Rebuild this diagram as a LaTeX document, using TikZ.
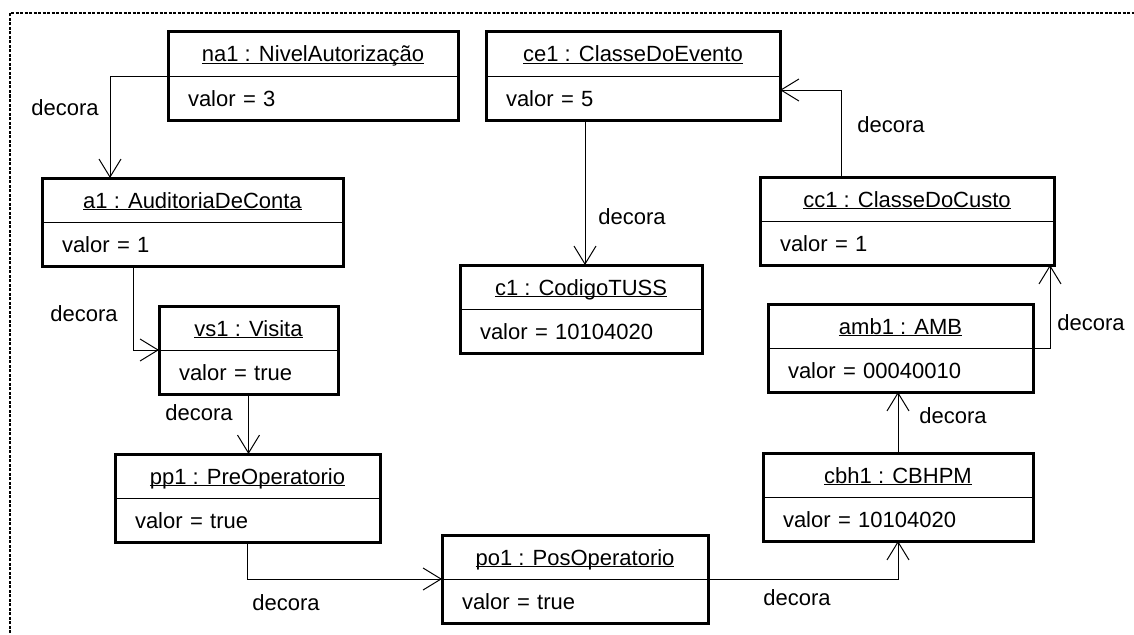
\documentclass[tikz,border=0pt]{standalone}
\usepackage{fontspec}
\setmainfont{Liberation Sans}
\usetikzlibrary{arrows.meta,positioning}
\newcommand{\sublinha}[1]{\underline{\smash{#1}}}

\begin{document}
\begin{tikzpicture}[x=1pt,y=-1pt,>={Straight Barb[length=18pt,width=22pt]},
	font=\fontsize{22}{26}\selectfont,
	titulo/.style={anchor=north west,inner sep=0pt,outer sep=0pt,minimum height=44pt,text height=30pt,text depth=14pt},
	valor/.style={inner xsep=20pt,inner ysep=0pt,outer sep=0pt,minimum height=44pt,text height=30pt,text depth=14pt,align=left},
	borda/.style={line width=3pt},
	divisa/.style={line width=1pt},
	seta/.style={->,line width=1pt},
	rotulo/.style={anchor=base},
	moldura/.style={line width=2pt,dash pattern=on 3pt off 1.5pt}]
				\useasboundingbox (0,0) rectangle (1134,634);
				\draw[moldura] (10,660) |- (1160,13);
				% objetos
				\node[titulo,minimum width=290pt] (na1) at (168,32) {\sublinha{na1 : NivelAutorização}};
				\node[valor,text width=250pt,below=0pt of na1] (na1-v) {valor = 3};
				\node[titulo,minimum width=294pt] (ce1) at (486,32) {\sublinha{ce1 : ClasseDoEvento}};
				\node[valor,text width=254pt,below=0pt of ce1] (ce1-v) {valor = 5};
				\node[titulo,minimum width=301pt] (a1) at (42,178) {\sublinha{a1 : AuditoriaDeConta}};
				\node[valor,text width=261pt,below=0pt of a1] (a1-v) {valor = 1};
				\node[titulo,minimum width=294pt] (cc1) at (760,177) {\sublinha{cc1 : ClasseDoCusto}};
				\node[valor,text width=254pt,below=0pt of cc1] (cc1-v) {valor = 1};
				\node[titulo,minimum width=242pt] (c1) at (460,265) {\sublinha{c1 : CodigoTUSS}};
				\node[valor,text width=202pt,below=0pt of c1] (c1-v) {valor = 10104020};
				\node[titulo,minimum width=179pt] (vs1) at (159,306) {\sublinha{vs1 : Visita}};
				\node[valor,text width=139pt,below=0pt of vs1] (vs1-v) {valor = true};
				\node[titulo,minimum width=265pt] (amb1) at (768,304) {\sublinha{amb1 : AMB}};
				\node[valor,text width=225pt,below=0pt of amb1] (amb1-v) {valor = 00040010};
				\node[titulo,minimum width=265pt] (pp1) at (115,454) {\sublinha{pp1 : PreOperatorio}};
				\node[valor,text width=225pt,below=0pt of pp1] (pp1-v) {valor = true};
				\node[titulo,minimum width=270pt] (cbh1) at (763,453) {\sublinha{cbh1 : CBHPM}};
				\node[valor,text width=230pt,below=0pt of cbh1] (cbh1-v) {valor = 10104020};
				\node[titulo,minimum width=266pt] (po1) at (442,535) {\sublinha{po1 : PosOperatorio}};
				\node[valor,text width=226pt,below=0pt of po1] (po1-v) {valor = true};
				% caixas
				\draw[borda] (na1.north west) rectangle (na1-v.south east);
				\draw[divisa] (na1.south west) -- (na1.south east);
				\draw[borda] (ce1.north west) rectangle (ce1-v.south east);
				\draw[divisa] (ce1.south west) -- (ce1.south east);
				\draw[borda] (a1.north west) rectangle (a1-v.south east);
				\draw[divisa] (a1.south west) -- (a1.south east);
				\draw[borda] (cc1.north west) rectangle (cc1-v.south east);
				\draw[divisa] (cc1.south west) -- (cc1.south east);
				\draw[borda] (c1.north west) rectangle (c1-v.south east);
				\draw[divisa] (c1.south west) -- (c1.south east);
				\draw[borda] (vs1.north west) rectangle (vs1-v.south east);
				\draw[divisa] (vs1.south west) -- (vs1.south east);
				\draw[borda] (amb1.north west) rectangle (amb1-v.south east);
				\draw[divisa] (amb1.south west) -- (amb1.south east);
				\draw[borda] (pp1.north west) rectangle (pp1-v.south east);
				\draw[divisa] (pp1.south west) -- (pp1.south east);
				\draw[borda] (cbh1.north west) rectangle (cbh1-v.south east);
				\draw[divisa] (cbh1.south west) -- (cbh1.south east);
				\draw[borda] (po1.north west) rectangle (po1-v.south east);
				\draw[divisa] (po1.south west) -- (po1.south east);
				% ligacoes
				\draw[seta] (na1.south west) -| ([xshift=68pt]a1.north west);
				\draw[seta] ([xshift=91pt]a1-v.south west) |- (vs1.south west);
				\draw[seta] (vs1-v.south) -- (vs1-v.south |- pp1.north);
				\draw[seta] (pp1-v.south) |- (po1.south west);
				\draw[seta] (po1.south east) -| (cbh1-v.south);
				\draw[seta] (cbh1.north) -- (cbh1.north |- amb1-v.south);
				\draw[seta] (amb1.south east) -| ([xshift=-4pt]cc1-v.south east);
				\draw[seta] ([xshift=81pt]cc1.north west) |- ([yshift=-14pt]ce1-v.north east);
				\draw[seta] ([xshift=99pt]ce1-v.south west) -- ([xshift=99pt]ce1-v.south west |- c1.north);
				% rotulos
				\node[rotulo] (r1) at (65,115) {decora};
				\node[rotulo] (r2) at (84,321) {decora};
				\node[rotulo] (r3) at (199,420) {decora};
				\node[rotulo] (r4) at (286,610) {decora};
				\node[rotulo] (r5) at (797,605) {decora};
				\node[rotulo] (r6) at (953,423) {decora};
				\node[rotulo] (r7) at (1091,330) {decora};
				\node[rotulo] (r8) at (891,132) {decora};
				\node[rotulo] (r9) at (632,224) {decora};
		\end{tikzpicture}
\end{document}
